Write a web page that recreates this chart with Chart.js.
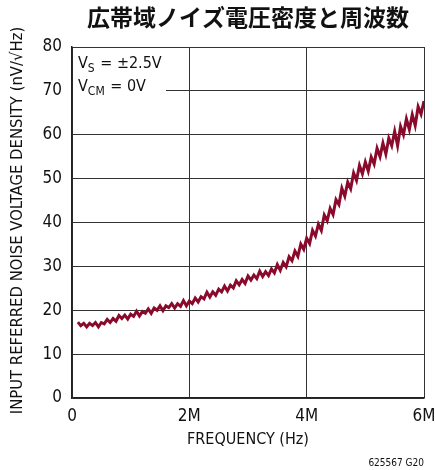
<!DOCTYPE html>
<html>
<head>
<meta charset="utf-8">
<script src="https://cdn.jsdelivr.net/npm/chart.js@4"></script>
<style>
  html, body { margin: 0; padding: 0; background: #fff; }
  #wrap { width: 435px; height: 470px; position: relative; }
</style>
</head>
<body>
<div id="wrap"><canvas id="noiseChart" width="435" height="470"></canvas></div>
<script>
// ── Data ─────────────────────────────────────────────────────
const TITLE = '広帯域ノイズ電圧密度と周波数';
const X_TITLE = 'FREQUENCY (Hz)';
const Y_TITLE = 'INPUT REFERRED NOISE VOLTAGE DENSITY (nV/√Hz)';
const X_TICKS = [0, 2, 4, 6];           // MHz
const Y_TICKS = [0, 10, 20, 30, 40, 50, 60, 70, 80];

// frequency in MHz
const freqMHz = [
  0.10, 0.15, 0.20, 0.25, 0.30, 0.35, 0.40, 0.45, 0.50, 0.55,
  0.60, 0.65, 0.70, 0.75, 0.80, 0.85, 0.90, 0.95, 1.00, 1.05,
  1.10, 1.15, 1.20, 1.25, 1.30, 1.35, 1.40, 1.45, 1.50, 1.55,
  1.60, 1.65, 1.70, 1.75, 1.80, 1.85, 1.90, 1.95, 2.00, 2.05,
  2.10, 2.15, 2.20, 2.25, 2.30, 2.35, 2.40, 2.45, 2.50, 2.55,
  2.60, 2.65, 2.70, 2.75, 2.80, 2.85, 2.90, 2.95, 3.00, 3.05,
  3.10, 3.15, 3.20, 3.25, 3.30, 3.35, 3.40, 3.45, 3.50, 3.55,
  3.60, 3.65, 3.70, 3.75, 3.80, 3.85, 3.90, 3.95, 4.00, 4.05,
  4.10, 4.15, 4.20, 4.25, 4.30, 4.35, 4.40, 4.45, 4.50, 4.55,
  4.60, 4.65, 4.70, 4.75, 4.80, 4.85, 4.90, 4.95, 5.00, 5.05,
  5.10, 5.15, 5.20, 5.25, 5.30, 5.35, 5.40, 5.45, 5.50, 5.55,
  5.60, 5.65, 5.70, 5.75, 5.80, 5.85, 5.90, 5.95, 6.00,
];

// noise density in nV/√Hz
const noiseDensity = [
  17.3, 16.5, 17.0, 16.2, 17.0, 16.5, 17.2, 16.2, 17.2, 16.9,
  17.9, 17.2, 18.1, 17.5, 18.8, 18.1, 18.9, 18.0, 19.1, 18.6,
  19.8, 18.7, 19.7, 19.3, 20.3, 19.3, 20.5, 20.0, 21.0, 19.9,
  21.0, 20.6, 21.5, 20.5, 21.5, 20.9, 22.2, 21.0, 22.1, 21.5,
  22.8, 21.9, 23.1, 22.6, 24.1, 23.0, 24.2, 23.4, 24.8, 24.2,
  25.5, 24.4, 25.7, 25.1, 26.7, 25.8, 27.0, 26.1, 27.8, 26.9,
  28.0, 27.2, 28.9, 27.7, 28.8, 27.9, 29.4, 28.5, 30.4, 29.1,
  30.9, 29.9, 32.2, 31.3, 33.5, 32.3, 35.1, 33.9, 36.4, 35.2,
  38.2, 36.9, 39.6, 38.2, 41.7, 40.4, 43.2, 41.8, 45.2, 44.1,
  47.8, 46.0, 49.2, 47.7, 51.3, 49.6, 53.0, 51.1, 53.8, 51.7,
  54.9, 53.3, 56.9, 55.0, 58.1, 55.6, 59.2, 57.5, 60.8, 57.5,
  61.9, 60.0, 63.6, 61.2, 64.6, 62.1, 66.4, 64.7, 67.7,
];

const COND = '"DejaVu Sans Condensed", "Liberation Sans", sans-serif';

// ── Extra text: title, axis titles, condition box, footnote ──
const annotations = {
  id: 'annotations',
  afterDraw(chart) {
    const { ctx, chartArea: ca } = chart;
    ctx.save();
    ctx.fillStyle = '#111';

    // title
    ctx.font = 'bold 23px "Noto Sans CJK JP", sans-serif';
    ctx.textAlign = 'center';
    ctx.textBaseline = 'middle';
    ctx.fillText(TITLE, 248, 17);

    // x axis title
    ctx.font = '16px ' + COND;
    ctx.fillText(X_TITLE, (ca.left + ca.right) / 2, 440);

    // y axis title
    ctx.save();
    ctx.translate(18, (ca.top + ca.bottom) / 2 - 2);
    ctx.rotate(-Math.PI / 2);
    ctx.font = '16.5px ' + COND;
    ctx.fillText(Y_TITLE, 0, 0);
    ctx.restore();

    // footnote
    ctx.font = '10px ' + COND;
    ctx.textAlign = 'right';
    ctx.fillText('625567 G20', 424, 463);

    // condition box (white patch over the grid)
    ctx.fillStyle = '#fff';
    ctx.fillRect(ca.left + 1, ca.top + 1, 93, 50);
    ctx.fillStyle = '#111';
    ctx.textAlign = 'left';
    ctx.textBaseline = 'alphabetic';
    const line = (x, y, main, sub, rest) => {
      ctx.font = '16px ' + COND;
      ctx.fillText(main, x, y);
      let w = ctx.measureText(main).width;
      ctx.font = '12px ' + COND;
      ctx.fillText(sub, x + w, y + 4);
      w += ctx.measureText(sub).width;
      ctx.font = '16px ' + COND;
      ctx.fillText(rest, x + w + 1, y);
    };
    line(ca.left + 6, ca.top + 21, 'V', 'S', ' = ±2.5V');
    line(ca.left + 6, ca.top + 44, 'V', 'CM', ' = 0V');
    ctx.restore();
  },
};

new Chart(document.getElementById('noiseChart').getContext('2d'), {
  type: 'line',
  data: {
    datasets: [{
      data: freqMHz.map((f, i) => ({ x: f, y: noiseDensity[i] })),
      borderColor: '#8a0a2c',
      borderWidth: 3,
      pointRadius: 0,
      tension: 0,
      fill: false,
    }],
  },
  options: {
    responsive: false,
    animation: false,
    layout: { padding: { left: 0, top: 47, right: 11, bottom: 0 } },
    plugins: { legend: { display: false }, tooltip: { enabled: false } },
    scales: {
      x: {
        type: 'linear',
        min: 0, max: 6,
        afterBuildTicks: s => { s.ticks = X_TICKS.map(v => ({ value: v })); },
        afterFit: s => { s.height = 72; s.paddingLeft = 0; s.paddingRight = 0; },
        grid: { color: '#333', lineWidth: 1, drawTicks: false },
        border: { color: '#222', width: 1.5 },
        ticks: {
          padding: 8,
          color: '#111',
          font: { family: COND, size: 17 },
          callback: v => (v === 0 ? '0' : v + 'M'),
        },
      },
      y: {
        min: 0, max: 80,
        afterBuildTicks: s => { s.ticks = Y_TICKS.map(v => ({ value: v })); },
        afterFit: s => { s.width = 72; s.paddingTop = 0; s.paddingBottom = 0; },
        grid: { color: '#333', lineWidth: 1, drawTicks: false },
        border: { color: '#222', width: 1.5 },
        ticks: {
          padding: 10,
          color: '#111',
          font: { family: COND, size: 17 },
        },
      },
    },
  },
  plugins: [annotations],
});
</script>
</body>
</html>
